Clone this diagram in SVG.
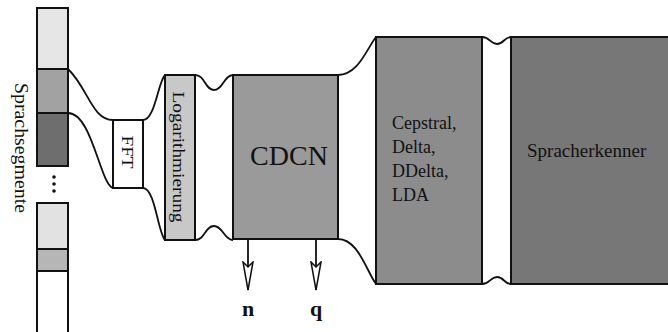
<svg xmlns="http://www.w3.org/2000/svg" width="668" height="332" viewBox="0 0 668 332">
<defs>
<style>
.box{stroke:#111;stroke-width:2}
.ln{fill:none;stroke:#111;stroke-width:1.8}
.t{font-family:"Liberation Serif","DejaVu Serif",serif;fill:#111}
</style>
<marker id="ah" viewBox="0 0 30 12" refX="29" refY="6" markerWidth="30" markerHeight="12" markerUnits="userSpaceOnUse" orient="auto">
<path d="M1,1 L29,6 L1,11 L6,6 Z" fill="#fff" stroke="#111" stroke-width="1.5"/>
</marker>
</defs>
<rect width="668" height="332" fill="#fff"/>

<g id="segmente">
<rect class="box" x="37" y="8" width="31" height="61" fill="#e6e6e6"/>
<rect class="box" x="37" y="69" width="31" height="44" fill="#a2a2a2"/>
<rect class="box" x="37" y="113" width="31" height="53" fill="#6e6e6e"/>
<circle cx="54" cy="177" r="1.8" fill="#111"/>
<circle cx="54" cy="184" r="1.8" fill="#111"/>
<circle cx="54" cy="191" r="1.8" fill="#111"/>
<rect class="box" x="37" y="203" width="31" height="46" fill="#e2e2e2"/>
<rect class="box" x="37" y="249" width="31" height="22" fill="#b6b6b6"/>
<rect class="box" x="37" y="271" width="31" height="66" fill="#fff"/>
<text class="t" transform="translate(15,148) rotate(90)" text-anchor="middle" font-size="18" textLength="130" lengthAdjust="spacingAndGlyphs">Sprachsegmente</text>
</g>

<g id="fft">
<rect class="box" x="113" y="120" width="30" height="68" fill="#fff"/>
<text class="t" transform="translate(122,152) rotate(90)" text-anchor="middle" font-size="16" textLength="33" lengthAdjust="spacingAndGlyphs">FFT</text>
</g>

<g id="log">
<rect class="box" x="165" y="75" width="30" height="165" fill="#c8c8c8"/>
<text class="t" transform="translate(173,157) rotate(90)" text-anchor="middle" font-size="17" textLength="131" lengthAdjust="spacingAndGlyphs">Logarithmierung</text>
</g>

<g id="cdcn">
<rect class="box" x="233" y="75" width="105" height="164" fill="#9a9a9a"/>
<text class="t" x="289" y="165" text-anchor="middle" font-size="28">CDCN</text>
</g>

<g id="cepstral">
<rect class="box" x="376" y="37" width="106" height="247" fill="#8c8c8c"/>
<text class="t" font-size="18">
<tspan x="392" y="129">Cepstral,</tspan>
<tspan x="392" y="153">Delta,</tspan>
<tspan x="392" y="177">DDelta,</tspan>
<tspan x="392" y="201">LDA</tspan>
</text>
</g>

<g id="spracherkenner">
<rect class="box" x="511" y="37" width="162" height="247" fill="#777"/>
<text class="t" x="527" y="157" font-size="19">Spracherkenner</text>
</g>

<g id="connectors">
<path class="ln" d="M68,69 C88,88 92,120 113,120"/>
<path class="ln" d="M68,113 C92,113 100,184 113,188"/>
<path class="ln" d="M143,120 C155,120 158,82 165,75"/>
<path class="ln" d="M143,188 C155,188 158,233 165,240"/>
<path class="ln" d="M195,75 C205,75 205,90 214,90 C223,90 224,75 233,75"/>
<path class="ln" d="M195,240 C205,240 205,226 214,226 C223,226 224,240 233,240"/>
<path class="ln" d="M338,75 C358,75 366,50 376,37"/>
<path class="ln" d="M338,239 C358,239 366,270 376,284"/>
<path class="ln" d="M482,37 C490,37 490,44 497,44 C504,44 504,37 511,37"/>
<path class="ln" d="M482,284 C490,284 490,277 497,277 C504,277 504,284 511,284"/>
<line class="ln" x1="248" y1="240" x2="248" y2="290" marker-end="url(#ah)"/>
<line class="ln" x1="316" y1="240" x2="316" y2="290" marker-end="url(#ah)"/>
</g>
<text class="t" x="248" y="316" text-anchor="middle" font-size="22" font-weight="bold">n</text>
<text class="t" x="316" y="316" text-anchor="middle" font-size="22" font-weight="bold">q</text>
</svg>
